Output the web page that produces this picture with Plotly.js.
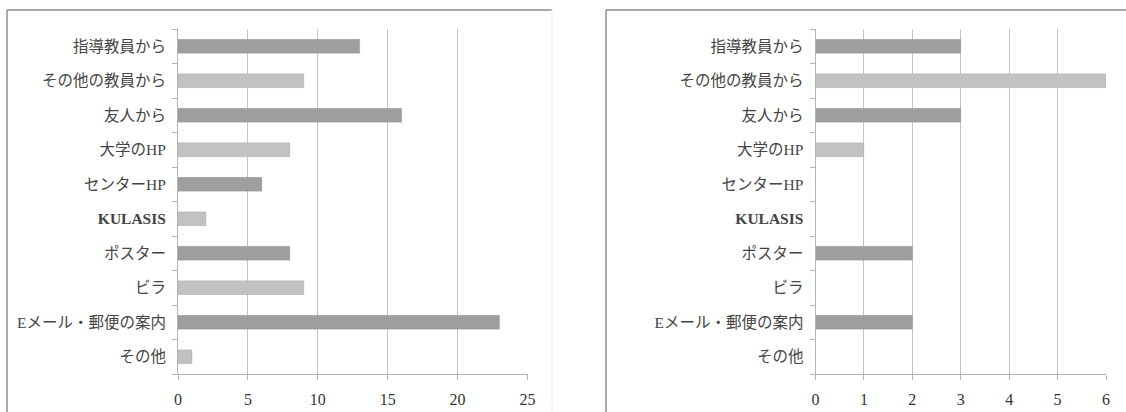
<!DOCTYPE html>
<html>
<head>
<meta charset="utf-8">
<script src="https://cdn.plot.ly/plotly-3.0.1.min.js"></script>
<style>
  html, body { margin: 0; padding: 0; background: #fff; }
  #chart { width: 1126px; height: 412px; }
</style>
</head>
<body>
<div id="chart"></div>
<script>
// Information sources (how respondents learned about the program)
const categories = [
  "指導教員から", "その他の教員から", "友人から", "大学のHP", "センターHP",
  "KULASIS", "ポスター", "ビラ", "Eメール・郵便の案内", "その他"
];
const countsLeft  = [13, 9, 16, 8, 6, 2, 8, 9, 23, 1];
const countsRight = [3, 6, 3, 1, 0, 0, 2, 0, 2, 0];
const ticksLeft  = [0, 5, 10, 15, 20, 25];
const ticksRight = [0, 1, 2, 3, 4, 5, 6];

const W = 1126, H = 412;
const DARK = "#9e9e9e", LIGHT = "#c2c2c2";
const barColors = categories.map((_, i) => (i % 2 === 0 ? DARK : LIGHT));
// the system name is set in bold type
const categoryText = categories.map(c => (c === "KULASIS" ? "<b>" + c + "</b>" : c));

const labelFont = { family: "Liberation Serif, Noto Sans CJK JP, serif", size: 15.5, color: "#444" };
const numFont = { family: "Liberation Serif, DejaVu Serif, serif", size: 16, color: "#333" };

function bar(values, xa, ya) {
  return {
    type: "bar", orientation: "h",
    y: categories, x: values,
    xaxis: xa, yaxis: ya,
    marker: { color: barColors, line: { color: "rgba(120,120,120,0.35)", width: 0.6 } },
    hoverinfo: "x+y"
  };
}

function xAxis(ticks, d0, d1, anchor) {
  return {
    domain: [d0 / W, d1 / W],
    anchor: anchor,
    range: [ticks[0], ticks[ticks.length - 1]],
    tickmode: "array", tickvals: ticks, ticktext: ticks.map(String),
    showgrid: true, gridcolor: "#c4c4c4", gridwidth: 1,
    zeroline: false,
    showline: true, linecolor: "#b4b4b4", linewidth: 1,
    ticks: "outside", ticklen: 5, tickcolor: "#b4b4b4", tickwidth: 1,
    ticklabelstandoff: 6,
    tickfont: numFont,
    fixedrange: true
  };
}

function yAxis(anchor) {
  return {
    domain: [(H - 374) / H, (H - 29) / H],
    anchor: anchor,
    type: "category",
    autorange: false, range: [categories.length - 0.5, -0.5],
    tickmode: "array", tickvals: categories, ticktext: categoryText,
    showgrid: false, zeroline: false,
    showline: true, linecolor: "#b4b4b4", linewidth: 1,
    ticks: "outside", ticklen: 5, tickcolor: "#b4b4b4", tickwidth: 1,
    tickson: "boundaries",
    ticklabelstandoff: 8,
    tickfont: labelFont,
    fixedrange: true
  };
}

const frameColor = "#8c8c8c";
function line(x0, y0, x1, y1, color, width) {
  return {
    type: "line", xref: "paper", yref: "paper",
    x0: x0 / W, x1: x1 / W, y0: 1 - y0 / H, y1: 1 - y1 / H,
    line: { color: color, width: width }, layer: "above"
  };
}

const layout = {
  width: W, height: H,
  margin: { l: 0, r: 0, t: 0, b: 0 },
  paper_bgcolor: "#fff", plot_bgcolor: "rgba(0,0,0,0)",
  showlegend: false,
  bargap: 0.6,
  xaxis: xAxis(ticksLeft, 178, 527.5, "y"),
  yaxis: yAxis("x"),
  xaxis2: xAxis(ticksRight, 815.5, 1106, "y2"),
  yaxis2: yAxis("x2"),
  shapes: [
    // left panel frame
    line(7, 10, 552, 10, frameColor, 1.5),
    line(7, 10, 7, 412, frameColor, 1.5),
    line(552, 10, 552, 412, "#ececec", 1),
    // right panel frame
    line(606, 10, 1126, 10, frameColor, 1.5),
    line(606, 10, 606, 412, frameColor, 1.5)
  ]
};

Plotly.newPlot("chart", [bar(countsLeft, "x", "y"), bar(countsRight, "x2", "y2")], layout,
  { staticPlot: true, displayModeBar: false });
</script>
</body>
</html>
